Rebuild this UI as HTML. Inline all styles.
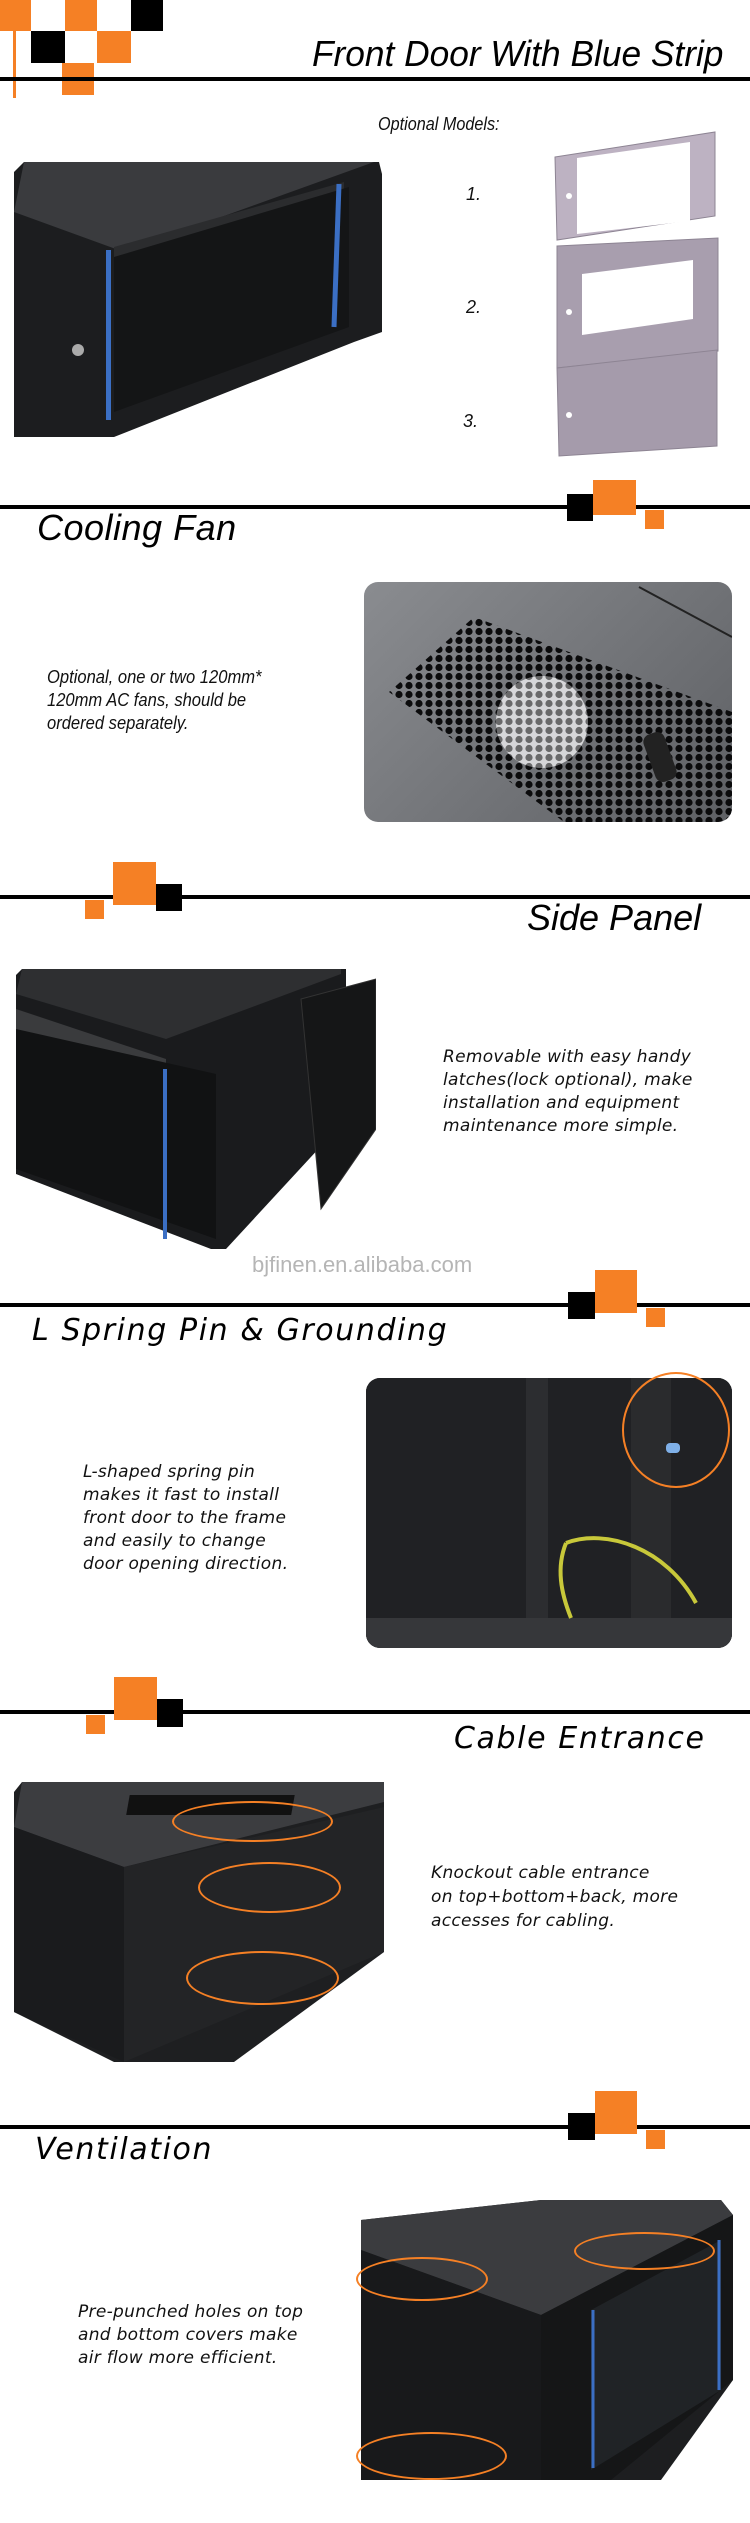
<!DOCTYPE html>
<html><head><meta charset="utf-8"><style>
*{margin:0;padding:0;box-sizing:border-box}
body{width:750px;height:2523px;background:#fff;position:relative;overflow:hidden;font-family:"Liberation Sans",sans-serif}
.a{position:absolute}
.o{background:#f58025;position:absolute}
.k{background:#000;position:absolute}
.ln{position:absolute;left:0;width:750px;height:4px;background:#000}
.t1{position:absolute;font-family:"Liberation Sans",sans-serif;font-style:italic;font-size:36px;line-height:36px;color:#000;white-space:nowrap}
.t2{position:absolute;font-family:"DejaVu Sans",sans-serif;font-style:oblique;font-size:30px;line-height:30px;color:#000;white-space:nowrap;letter-spacing:1.6px}
.p1{position:absolute;font-family:"Liberation Sans",sans-serif;font-style:italic;font-size:18px;line-height:23px;color:#111;white-space:nowrap}
.p2{position:absolute;font-family:"DejaVu Sans",sans-serif;font-style:oblique;font-size:17px;line-height:23px;color:#111;white-space:nowrap;letter-spacing:0.3px}
.img{position:absolute;border-radius:14px;overflow:hidden}
</style></head><body>

<div class="o" style="left:0;top:0;width:31px;height:31px"></div>
<div class="o" style="left:65px;top:0;width:32px;height:31px"></div>
<div class="k" style="left:131px;top:0;width:32px;height:31px"></div>
<div class="k" style="left:31px;top:31px;width:34px;height:32px"></div>
<div class="o" style="left:97px;top:31px;width:34px;height:32px"></div>
<div class="o" style="left:62px;top:63px;width:32px;height:32px"></div>
<div class="o" style="left:13px;top:31px;width:3px;height:67px"></div>
<div class="ln" style="top:77px"></div>
<div class="t1" style="left:312px;top:36px;transform:scaleX(0.98);transform-origin:left">Front Door With Blue Strip</div>

<div class="p1" style="left:378px;top:113px;transform:scaleX(0.9);transform-origin:left">Optional Models:</div>
<div class="p1" style="left:466px;top:183px">1.</div>
<div class="p1" style="left:466px;top:296px">2.</div>
<div class="p1" style="left:463px;top:410px">3.</div>
<svg class="a" style="left:550px;top:128px" width="175" height="335">
 <polygon points="5,29 165,4 165,88 7,112" fill="#bdb2c2" stroke="#8d8493"/>
 <polygon points="27,30 140,14 140,93 27,106" fill="#fff"/>
 <polygon points="7,118 168,110 168,223 7,240" fill="#a89eae" stroke="#8d8493"/>
 <polygon points="32,146 143,132 143,191 32,207" fill="#fff"/>
 <polygon points="7,240 167,222 167,318 9,328" fill="#a59bab" stroke="#8d8493"/>
 <circle cx="19" cy="68" r="3" fill="#fff"/><circle cx="19" cy="184" r="3" fill="#fff"/><circle cx="19" cy="287" r="3" fill="#fff"/>
</svg>
<svg class="a" style="left:14px;top:162px" width="370" height="280">
 <path d="M10,0 H365 L368,12 V170 L340,180 L100,275 H0 V10 Z" fill="#1c1d1f"/>
 <path d="M10,0 H360 L110,90 L0,50 Z" fill="#3a3b3e"/>
 <path d="M100,85 L330,20 V45 L100,110 Z" fill="#2b2c2e"/>
 <path d="M100,95 L335,25 V165 L100,250 Z" fill="#141516"/>
 <rect x="92" y="88" width="5" height="170" fill="#3b6fc4"/>
 <line x1="325" y1="22" x2="320" y2="165" stroke="#3b6fc4" stroke-width="5"/>
 <circle cx="64" cy="188" r="6" fill="#aaa"/>
</svg>

<div class="ln" style="top:505px"></div>
<div class="k" style="left:567px;top:494px;width:26px;height:27px"></div>
<div class="o" style="left:593px;top:480px;width:43px;height:35px"></div>
<div class="o" style="left:645px;top:510px;width:19px;height:19px"></div>
<div class="t1" style="left:37px;top:510px;font-size:36px;letter-spacing:0.5px">Cooling Fan</div>
<div class="p1" style="left:47px;top:666px;transform:scaleX(0.92);transform-origin:left">Optional, one or two 120mm*<br>120mm AC fans, should be<br>ordered separately.</div>
<div class="img" style="left:364px;top:582px;width:368px;height:240px;background:linear-gradient(135deg,#8a8c90,#5e6064)">
 <svg width="368" height="240" style="position:absolute;left:0;top:0">
  <defs><pattern id="hx" width="10" height="9" patternUnits="userSpaceOnUse"><circle cx="5" cy="4.5" r="3.6" fill="#0b0b0c"/></pattern></defs>
  <polygon points="110,35 368,130 368,240 200,240 25,110" fill="url(#hx)"/>
  <circle cx="178" cy="140" r="46" fill="#e8e8ea" opacity="0.85"/>
  <circle cx="178" cy="140" r="46" fill="url(#hx)" opacity="0.5"/>
  <line x1="275" y1="5" x2="368" y2="55" stroke="#222" stroke-width="2"/>
  <rect x="285" y="150" width="22" height="50" rx="8" fill="#222" transform="rotate(-20 296 175)"/>
 </svg>
</div>

<div class="ln" style="top:895px"></div>
<div class="o" style="left:113px;top:862px;width:43px;height:43px"></div>
<div class="k" style="left:156px;top:884px;width:26px;height:27px"></div>
<div class="o" style="left:85px;top:900px;width:19px;height:19px"></div>
<div class="t1" style="left:527px;top:900px;font-size:36px">Side Panel</div>
<svg class="a" style="left:16px;top:969px" width="360" height="280">
 <path d="M6,0 H330 V150 L210,280 H195 L0,205 V6 Z" fill="#1a1b1d"/>
 <path d="M0,25 L150,70 L325,5 V0 H6 Z" fill="#2e2f31"/>
 <path d="M0,40 L150,90 V120 L0,75 Z" fill="#3a3b3d"/>
 <path d="M0,60 L200,105 V270 L0,200 Z" fill="#111213"/>
 <rect x="147" y="100" width="4" height="170" fill="#3b6fc4"/>
 <path d="M285,30 L360,10 L360,160 L305,240 Z" fill="#151617" stroke="#333"/>
</svg>
<div class="p2" style="left:443px;top:1046px">Removable with easy handy<br>latches(lock optional), make<br>installation and equipment<br>maintenance more simple.</div>
<div class="a" style="left:252px;top:1252px;font-family:'Liberation Sans',sans-serif;font-size:22px;color:#b5b5b5">bjfinen.en.alibaba.com</div>

<div class="ln" style="top:1303px"></div>
<div class="k" style="left:568px;top:1292px;width:27px;height:27px"></div>
<div class="o" style="left:595px;top:1270px;width:42px;height:43px"></div>
<div class="o" style="left:646px;top:1308px;width:19px;height:19px"></div>
<div class="t2" style="left:32px;top:1316px">L Spring Pin &amp; Grounding</div>
<div class="img" style="left:366px;top:1378px;width:366px;height:270px;background:#1b1c1e">
 <svg width="366" height="270" style="position:absolute;left:0;top:0">
  <rect x="0" y="0" width="366" height="270" fill="#202124"/>
  <rect x="160" y="0" width="22" height="240" fill="#2c2d30"/>
  <rect x="265" y="0" width="40" height="270" fill="#2a2b2d"/>
  <path d="M0,240 H366 V270 H0 Z" fill="#36373a"/>
  <path d="M200,165 C240,150 300,170 330,225" stroke="#c8c83a" stroke-width="4" fill="none"/>
  <path d="M200,165 C190,190 195,215 205,240" stroke="#c8c83a" stroke-width="4" fill="none"/>
  <rect x="300" y="65" width="14" height="10" rx="4" fill="#7fb0e8"/>
 </svg>
</div>
<div class="a" style="left:622px;top:1372px;width:108px;height:116px;border:2px solid #f58025;border-radius:50%"></div>
<div class="p2" style="left:83px;top:1461px">L-shaped spring pin<br>makes it fast to install<br>front door to the frame<br>and easily to change<br>door opening direction.</div>

<div class="ln" style="top:1710px"></div>
<div class="o" style="left:114px;top:1677px;width:43px;height:43px"></div>
<div class="k" style="left:157px;top:1699px;width:26px;height:28px"></div>
<div class="o" style="left:86px;top:1715px;width:19px;height:19px"></div>
<div class="t2" style="left:454px;top:1724px">Cable Entrance</div>
<svg class="a" style="left:14px;top:1782px" width="372" height="280">
 <path d="M8,0 H370 V170 L220,280 H100 L0,230 V10 Z" fill="#1e1f21"/>
 <path d="M8,0 H370 V20 L110,85 L0,45 Z" fill="#3c3d40"/>
 <path d="M110,85 L370,25 V170 L110,280 Z" fill="#232426"/>
 <path d="M0,45 L110,85 V280 L0,230 Z" fill="#1a1b1d"/>
 <rect x="118" y="13" width="165" height="20" fill="#111" transform="skewX(-10)"/>
</svg>
<div class="a" style="left:172px;top:1801px;width:161px;height:41px;border:2px solid #f58025;border-radius:50%"></div>
<div class="a" style="left:198px;top:1862px;width:143px;height:51px;border:2px solid #f58025;border-radius:50%"></div>
<div class="a" style="left:186px;top:1951px;width:153px;height:54px;border:2px solid #f58025;border-radius:50%"></div>
<div class="p2" style="left:431px;top:1861px;line-height:24px">Knockout cable entrance<br>on top+bottom+back, more<br>accesses for cabling.</div>

<div class="ln" style="top:2125px"></div>
<div class="k" style="left:568px;top:2113px;width:27px;height:27px"></div>
<div class="o" style="left:595px;top:2091px;width:42px;height:43px"></div>
<div class="o" style="left:646px;top:2130px;width:19px;height:19px"></div>
<div class="t2" style="left:35px;top:2135px">Ventilation</div>
<svg class="a" style="left:361px;top:2200px" width="372" height="280">
 <path d="M0,20 L180,0 H360 L372,15 V180 L300,280 H0 Z" fill="#1d1e20"/>
 <path d="M0,20 L180,0 H360 L372,15 L180,115 L0,50 Z" fill="#3b3c3f"/>
 <path d="M180,115 L372,15 V180 L250,280 H180 Z" fill="#151617"/>
 <path d="M230,110 L360,40 V190 L230,270 Z" fill="#202326"/>
 <line x1="232" y1="110" x2="232" y2="268" stroke="#3b6fc4" stroke-width="3"/>
 <line x1="358" y1="40" x2="358" y2="190" stroke="#3b6fc4" stroke-width="3"/>
 <path d="M0,50 L180,115 V280 H0 Z" fill="#18191b"/>
</svg>
<div class="a" style="left:356px;top:2257px;width:132px;height:44px;border:2px solid #f58025;border-radius:50%"></div>
<div class="a" style="left:574px;top:2232px;width:141px;height:38px;border:2px solid #f58025;border-radius:50%"></div>
<div class="a" style="left:356px;top:2432px;width:151px;height:48px;border:2px solid #f58025;border-radius:50%"></div>
<div class="p2" style="left:78px;top:2301px">Pre-punched holes on top<br>and bottom covers make<br>air flow more efficient.</div>

</body></html>
